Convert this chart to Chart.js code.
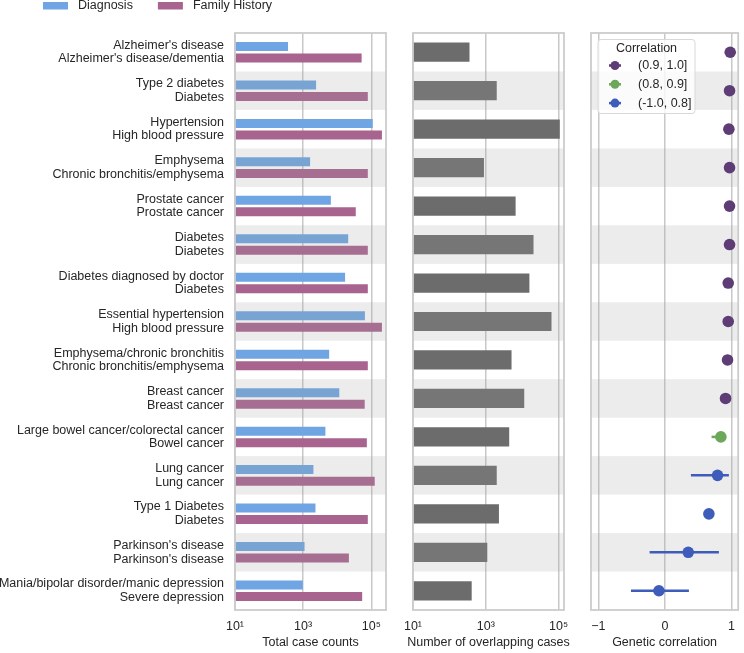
<!DOCTYPE html>
<html>
<head>
<meta charset="utf-8">
<script src="https://cdn.jsdelivr.net/npm/chart.js@4.4.0/dist/chart.umd.min.js"></script>
<style>
  html, body { margin: 0; padding: 0; background: #fff; }
  #wrap { position: relative; width: 744px; height: 653px; overflow: hidden; }
  .panel { position: absolute; top: 0; height: 653px; }
</style>
</head>
<body>
<div id="wrap">
  <div class="panel" style="left:0;width:400px"><canvas id="counts"></canvas></div>
  <div class="panel" style="left:400px;width:175px"><canvas id="overlap"></canvas></div>
  <div class="panel" style="left:575px;width:169px"><canvas id="corr"></canvas></div>
</div>
<script>
const diagnosisNames = [
  "Alzheimer's disease", "Type 2 diabetes", "Hypertension", "Emphysema",
  "Prostate cancer", "Diabetes", "Diabetes diagnosed by doctor",
  "Essential hypertension", "Emphysema/chronic bronchitis", "Breast cancer",
  "Large bowel cancer/colorectal cancer", "Lung cancer", "Type 1 Diabetes",
  "Parkinson's disease", "Mania/bipolar disorder/manic depression"
];
const familyNames = [
  "Alzheimer's disease/dementia", "Diabetes", "High blood pressure",
  "Chronic bronchitis/emphysema", "Prostate cancer", "Diabetes", "Diabetes",
  "High blood pressure", "Chronic bronchitis/emphysema", "Breast cancer",
  "Bowel cancer", "Lung cancer", "Diabetes", "Parkinson's disease",
  "Severe depression"
];
const diagnosisCounts = [360, 2400, 110000, 1600, 6500, 21000, 17000, 65000, 5800, 11500, 4500, 2000, 2300, 1100, 980];
const familyCounts = [52000, 79000, 205000, 79000, 35000, 79000, 79000, 205000, 79000, 64000, 74000, 126000, 79000, 22000, 54000];
const overlapCounts = [357, 2000, 108000, 890, 6600, 20500, 15800, 64000, 5100, 11400, 4400, 2000, 2300, 1100, 410];
const geneticCorr = [0.98, 0.97, 0.96, 0.97, 0.97, 0.97, 0.95, 0.95, 0.94, 0.91, 0.84, 0.79, 0.66, 0.35, -0.09];
const corrLow = [null, null, null, null, null, null, null, null, null, null, 0.70, 0.39, null, -0.23, -0.51];
const corrHigh = [null, null, null, null, null, null, null, null, null, null, 0.88, 0.96, null, 0.81, 0.36];
const logTicks = [10, 1000, 100000];
const corrTicks = [-1, 0, 1];
const corrBins = [
  { label: "(0.9, 1.0]", min: 0.9, color: "#5e3d76" },
  { label: "(0.8, 0.9]", min: 0.8, color: "#6da85a" },
  { label: "(-1.0, 0.8]", min: -1.0, color: "#3e5cba" }
];

const textColor = "#262626";
const gridColor = "#c8c8c8";
const fontFamily = '"Liberation Sans", Arial, sans-serif';
Chart.defaults.font.family = fontFamily;
Chart.defaults.font.size = 12.5;
Chart.defaults.color = textColor;

const sups = "⁰¹²³⁴⁵⁶⁷⁸⁹";
const binFor = (v) => corrBins.find((b) => v > b.min) || corrBins[corrBins.length - 1];

// alternating grey rows, the box round each panel and the x title
const bandsPlugin = {
  id: "bands",
  paint(chart) {
    const { ctx, chartArea: a, scales } = chart;
    const y = scales.y;
    const h = Math.abs(y.getPixelForValue(1) - y.getPixelForValue(0));
    ctx.save();
    ctx.fillStyle = "rgba(160,160,160,0.2)";
    for (let i = 1; i < diagnosisNames.length; i += 2) {
      const c = y.getPixelForValue(i);
      ctx.fillRect(a.left, c - h / 2, a.right - a.left, h);
    }
    ctx.restore();
  },
  beforeDatasetsDraw(chart, args, opts) {
    if (!opts.over) this.paint(chart);
  },
  afterDatasetsDraw(chart, args, opts) {
    if (opts.over) this.paint(chart);
  },
  afterDraw(chart, args, opts) {
    const { ctx, chartArea: a } = chart;
    ctx.save();
    ctx.strokeStyle = "#cccccc";
    ctx.lineWidth = 1.8;
    ctx.strokeRect(a.left, a.top, a.right - a.left, a.bottom - a.top);
    if (opts.title) {
      ctx.font = "12.5px " + fontFamily;
      ctx.fillStyle = textColor;
      ctx.textAlign = "center";
      ctx.textBaseline = "middle";
      ctx.fillText(opts.title, (a.left + a.right) / 2, chart.height - 10);
    }
    ctx.restore();
  }
};

const topLegend = {
  id: "topLegend",
  afterDraw(chart) {
    const ctx = chart.ctx;
    let x = 43;
    ctx.save();
    ctx.font = "12.5px " + fontFamily;
    ctx.textBaseline = "middle";
    chart.data.datasets.forEach((ds) => {
      ctx.fillStyle = ds.backgroundColor;
      ctx.fillRect(x, 2, 25, 7.5);
      ctx.fillStyle = textColor;
      ctx.fillText(ds.label, x + 35, 6);
      x += 35 + ctx.measureText(ds.label).width + 25;
    });
    ctx.restore();
  }
};

const errorBars = {
  id: "errorBars",
  beforeDatasetsDraw(chart) {
    const { ctx, scales } = chart;
    ctx.save();
    ctx.lineWidth = 2.5;
    geneticCorr.forEach((v, i) => {
      if (corrLow[i] == null) return;
      const y = scales.y.getPixelForValue(i);
      ctx.strokeStyle = binFor(v).color;
      ctx.beginPath();
      ctx.moveTo(scales.x.getPixelForValue(corrLow[i]), y);
      ctx.lineTo(scales.x.getPixelForValue(corrHigh[i]), y);
      ctx.stroke();
    });
    ctx.restore();
  }
};

const corrLegend = {
  id: "corrLegend",
  afterDraw(chart) {
    const { ctx, chartArea: a } = chart;
    const x0 = a.left + 7, y0 = a.top + 6.5, w = 97, h = 74;
    ctx.save();
    ctx.fillStyle = "rgba(255,255,255,0.8)";
    ctx.strokeStyle = "#d8d8d8";
    ctx.lineWidth = 1;
    ctx.beginPath();
    ctx.roundRect(x0, y0, w, h, 3);
    ctx.fill();
    ctx.stroke();
    ctx.font = "12.5px " + fontFamily;
    ctx.fillStyle = textColor;
    ctx.textBaseline = "middle";
    ctx.textAlign = "center";
    ctx.fillText("Correlation", x0 + w / 2, y0 + 9.5);
    ctx.textAlign = "left";
    corrBins.forEach((b, k) => {
      const yy = y0 + 26 + k * 18.8;
      ctx.strokeStyle = b.color;
      ctx.lineWidth = 2.5;
      ctx.beginPath();
      ctx.moveTo(x0 + 11, yy);
      ctx.lineTo(x0 + 23, yy);
      ctx.stroke();
      ctx.fillStyle = b.color;
      ctx.beginPath();
      ctx.arc(x0 + 17, yy, 4.5, 0, Math.PI * 2);
      ctx.fill();
      ctx.fillStyle = textColor;
      ctx.fillText(b.label, x0 + 40, yy);
    });
    ctx.restore();
  }
};

// keep the plot box where it is: no extra room for the end tick labels
const fitX = (s) => {
  s.height = 43;
  s.paddingLeft = 0;
  s.paddingRight = 0;
};

function logAxis(max) {
  return {
    type: "logarithmic",
    min: 10,
    max: max,
    afterBuildTicks: (s) => { s.ticks = logTicks.map((v) => ({ value: v })); },
    afterFit: fitX,
    ticks: {
      padding: 9,
      autoSkip: false,
      maxRotation: 0,
      callback: (v) => "10" + sups[Math.round(Math.log10(v))]
    },
    grid: { color: gridColor, lineWidth: 1.5, drawTicks: false },
    border: { display: false }
  };
}

const rowLabels = diagnosisNames.map((d, i) => [d, familyNames[i]]);

new Chart(document.getElementById("counts"), {
  type: "bar",
  data: {
    labels: rowLabels,
    datasets: [
      { label: "Diagnosis", data: diagnosisCounts, backgroundColor: "#6fa5e2",
        categoryPercentage: 0.6, barPercentage: 0.78, borderWidth: 0 },
      { label: "Family History", data: familyCounts, backgroundColor: "#a8638f",
        categoryPercentage: 0.6, barPercentage: 0.78, borderWidth: 0 }
    ]
  },
  options: {
    indexAxis: "y",
    animation: false,
    responsive: true,
    maintainAspectRatio: false,
    layout: { padding: { top: 33, right: 14, left: 0, bottom: 0 } },
    plugins: {
      legend: { display: false },
      tooltip: { enabled: false },
      bands: { over: true, title: "Total case counts" }
    },
    scales: {
      x: logAxis(270000),
      y: {
        type: "category",
        grid: { display: false, drawTicks: false },
        border: { display: false },
        ticks: { padding: 11, autoSkip: false, font: { size: 12.5, lineHeight: 1.09 } },
        afterFit: (s) => { s.width = 235; }
      }
    }
  },
  plugins: [bandsPlugin, topLegend]
});

new Chart(document.getElementById("overlap"), {
  type: "bar",
  data: {
    labels: diagnosisNames,
    datasets: [
      { label: "Overlapping cases", data: overlapCounts, backgroundColor: "#6c6c6c",
        categoryPercentage: 1, barPercentage: 0.5, borderWidth: 0 }
    ]
  },
  options: {
    indexAxis: "y",
    animation: false,
    responsive: true,
    maintainAspectRatio: false,
    layout: { padding: { top: 33, right: 11, left: 13, bottom: 0 } },
    plugins: {
      legend: { display: false },
      tooltip: { enabled: false },
      bands: { over: true, title: "Number of overlapping cases" }
    },
    scales: {
      x: logAxis(141000),
      y: { type: "category", display: false }
    }
  },
  plugins: [bandsPlugin]
});

new Chart(document.getElementById("corr"), {
  type: "scatter",
  data: {
    datasets: [
      {
        label: "Genetic correlation",
        data: geneticCorr.map((v, i) => ({ x: v, y: diagnosisNames[i] })),
        pointRadius: 5.8,
        pointBorderWidth: 0,
        pointBackgroundColor: geneticCorr.map((v) => binFor(v).color)
      }
    ]
  },
  options: {
    animation: false,
    responsive: true,
    maintainAspectRatio: false,
    layout: { padding: { top: 33, right: 2, left: 16, bottom: 0 } },
    plugins: {
      legend: { display: false },
      tooltip: { enabled: false },
      bands: { over: false, title: "Genetic correlation" }
    },
    scales: {
      x: {
        type: "linear",
        min: -1.11,
        max: 1.1,
        afterBuildTicks: (s) => { s.ticks = corrTicks.map((v) => ({ value: v })); },
        afterFit: fitX,
        ticks: {
          padding: 9,
          autoSkip: false,
          maxRotation: 0,
          callback: (v) => (v < 0 ? "\u2212" + Math.abs(v) : String(v))
        },
        grid: { color: gridColor, lineWidth: 1.5, drawTicks: false },
        border: { display: false }
      },
      y: { type: "category", labels: diagnosisNames, offset: true, display: false }
    }
  },
  plugins: [bandsPlugin, errorBars, corrLegend]
});
</script>
</body>
</html>
